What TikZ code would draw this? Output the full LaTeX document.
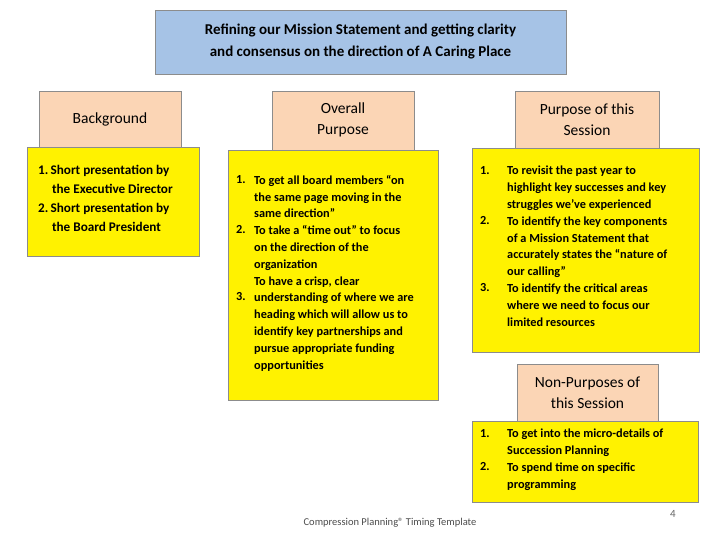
\documentclass[tikz,border=0pt]{standalone}
\usepackage{fontspec}
\setmainfont{Carlito}
\begin{document}
\begin{tikzpicture}[x=1pt,y=-1pt,
 hdr/.style={draw=black!45,fill=hdrc,line width=0.8pt},
 ybox/.style={draw=black!45,fill=yellow,line width=0.8pt},
 btxt/.style={anchor=north west,inner sep=0pt,align=left,font=\fontsize{12.3}{16.8}\selectfont\bfseries},
 htxt/.style={align=center,font=\fontsize{15.5}{21}\selectfont}]
\definecolor{hdrc}{HTML}{FBD5B5}
\definecolor{titc}{HTML}{A6C3E6}
\useasboundingbox (0,0) rectangle (720,540);
\fill[white] (0,0) rectangle (720,540);
% title
\draw[draw=black!45,fill=titc,line width=0.8pt] (155,10) rectangle (566,74);
\node[htxt,font=\fontsize{15}{22}\selectfont\bfseries] (title) at (360.5,42) {Refining our Mission Statement and getting clarity\\and consensus on the direction of A Caring Place};
% background
\draw[hdr] (39,91) rectangle (181,147);
\node[htxt] (bgh) at (110,119) {Background};
\draw[ybox] (27,147) rectangle (199,256);
\node[btxt,font=\fontsize{13.2}{19}\selectfont\bfseries] (bgt) at (38,165) {1.\,Short presentation by\\\hspace*{1.05em}the Executive Director\\2.\,Short presentation by\\\hspace*{1.05em}the Board President};
% overall
\draw[hdr] (272,91) rectangle (414,150);
\node[htxt] (oph) at (343,120) {Overall\\Purpose};
\draw[ybox] (228,150) rectangle (438,400);
\node[btxt] (on) at (236,175) {1.\\[33.6pt]2.\\[50.4pt]3.};
\node[btxt] (ot) at (254,175) {To get all board members “on\\the same page moving in the\\same direction”\\To take a “time out” to focus\\on the direction of the\\organization\\To have a crisp, clear\\understanding of where we are\\heading which will allow us to\\identify key partnerships and\\pursue appropriate funding\\opportunities};
% purpose of session
\draw[hdr] (515,91) rectangle (659,148);
\node[htxt] (psh) at (587,120) {Purpose of this\\Session};
\draw[ybox] (472,148) rectangle (699,352);
\node[btxt] (pn) at (480,166) {1.\\[33.6pt]2.\\[50.4pt]3.};
\node[btxt] (pt) at (507,166) {To revisit the past year to\\highlight key successes and key\\struggles we’ve experienced\\To identify the key components\\of a Mission Statement that\\accurately states the “nature of\\our calling”\\To identify the critical areas\\where we need to focus our\\limited resources};
% non-purposes
\draw[hdr] (517,364) rectangle (658,421);
\node[htxt] (nph) at (587.5,393) {Non-Purposes of\\this Session};
\draw[ybox] (472,421) rectangle (698,502);
\node[btxt] (nn) at (480,429) {1.\\[16.8pt]2.};
\node[btxt] (nt) at (507,429) {To get into the micro-details of\\Succession Planning\\To spend time on specific\\programming};
% footer
\node[font=\fontsize{10.5}{12}\selectfont,text=black!70] (foot) at (390,523) {Compression Planning® Timing Template};
\node[font=\fontsize{11}{12}\selectfont,text=black!60] (pg) at (673,514) {4};
\end{tikzpicture}
\end{document}
